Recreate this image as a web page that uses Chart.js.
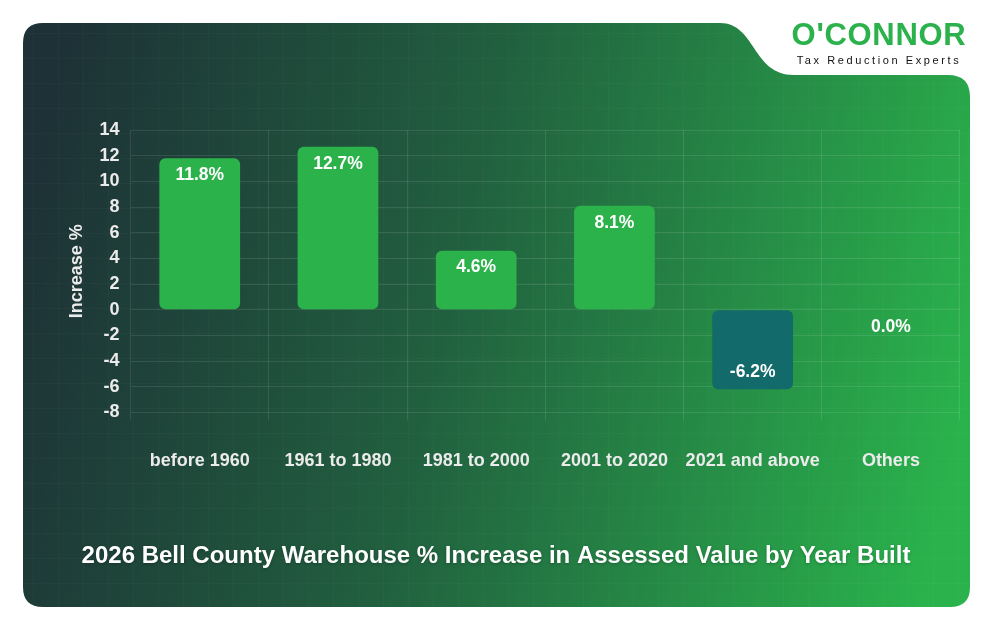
<!DOCTYPE html>
<html><head><meta charset="utf-8">
<script src="https://cdn.jsdelivr.net/npm/chart.js@4.4.1/dist/chart.umd.min.js"></script>
<style>
html,body{margin:0;padding:0;background:#fff;}
#wrap{position:relative;width:994px;height:632px;}
canvas{position:absolute;left:0;top:0;}
#logo{position:absolute;left:781px;top:18px;width:196px;text-align:center;font-family:Arial,"Liberation Sans",sans-serif;}
#logo .n{color:#2bb24c;font-weight:900;font-size:31px;letter-spacing:0.7px;line-height:34px;}
#logo .t{color:#111;font-size:11px;letter-spacing:2.6px;line-height:14px;margin-top:1px;}
</style></head>
<body><div id="wrap"><canvas id="c" width="994" height="632"></canvas>
<div id="logo"><div class="n">O'CONNOR</div><div class="t">Tax Reduction Experts</div></div></div>
<script>
const categories = ["before 1960","1961 to 1980","1981 to 2000","2001 to 2020","2021 and above","Others"];
const values = [11.8, 12.7, 4.6, 8.1, -6.2, 0.0];
const yTicks = [14,12,10,8,6,4,2,0,-2,-4,-6,-8];
const chartTitle = "2026 Bell County Warehouse % Increase in Assessed Value by Year Built";
const yTitle = "Increase %";

const FF = 'Arial, "Liberation Sans", sans-serif';

const bgPlugin = {
  id:'bg',
  beforeDraw(chart){
    const ctx = chart.ctx;
    ctx.save();
    const L=23,T=23,R=970,B=607,r=20;
    ctx.beginPath();
    ctx.moveTo(L+r,T);
    ctx.lineTo(720,T);
    ctx.bezierCurveTo(756,T,752,75,794,75);
    ctx.lineTo(948,75);
    ctx.quadraticCurveTo(R,75,R,97);
    ctx.lineTo(R,B-r);
    ctx.quadraticCurveTo(R,B,R-r,B);
    ctx.lineTo(L+r,B);
    ctx.quadraticCurveTo(L,B,L,B-r);
    ctx.lineTo(L,T+r);
    ctx.quadraticCurveTo(L,T,L+r,T);
    ctx.closePath();
    const g = ctx.createLinearGradient(L,200,R,420);
    g.addColorStop(0,'#1d3136');
    g.addColorStop(0.45,'#21603f');
    g.addColorStop(1,'#2ab34c');
    ctx.fillStyle=g;
    ctx.fill();
    ctx.clip();
    ctx.strokeStyle='rgba(255,255,255,0.025)';
    ctx.lineWidth=1;
    for(let x=L+10;x<R;x+=25){ctx.beginPath();ctx.moveTo(x+0.5,T);ctx.lineTo(x+0.5,B);ctx.stroke();}
    for(let y=T+10;y<B;y+=25){ctx.beginPath();ctx.moveTo(L,y+0.5);ctx.lineTo(R,y+0.5);ctx.stroke();}
    ctx.restore();
  },
  afterDraw(chart){
    const ctx=chart.ctx;
    ctx.save();
    ctx.font='bold 24px '+FF;
    ctx.fillStyle='#ffffff';
    ctx.textAlign='center';
    ctx.textBaseline='middle';
    ctx.shadowColor='rgba(0,0,0,0.25)';
    ctx.shadowBlur=3;
    ctx.shadowOffsetY=1;
    ctx.fillText(chartTitle, 496, 556);
    ctx.restore();
  }
};

const labelPlugin = {
  id:'vals',
  afterDatasetsDraw(chart){
    const ctx=chart.ctx;
    const meta=chart.getDatasetMeta(0);
    ctx.save();
    ctx.font='bold 17.5px '+FF;
    ctx.fillStyle='#ffffff';
    ctx.textAlign='center';
    ctx.textBaseline='middle';
    meta.data.forEach((bar,i)=>{
      const v=values[i];
      let y;
      if(v>=0){ y = Math.min(bar.y,bar.base)+17; }
      else { y = Math.max(bar.y,bar.base)-17; }
      ctx.fillText(v.toFixed(1)+'%', bar.x, y);
    });
    ctx.restore();
  }
};

const font = {family:FF, weight:'bold', size:18};
new Chart(document.getElementById('c'),{
  type:'bar',
  data:{labels:categories,datasets:[{
    data:values,
    backgroundColor: values.map(v=>v<0?'#126a6b':'#2bb24b'),
    borderRadius:6, borderSkipped:false,
    categoryPercentage:0.8, barPercentage:0.73
  }]},
  options:{
    responsive:false, animation:false,
    layout:{padding:{left:62,right:34,top:130,bottom:130}},
    plugins:{legend:{display:false},tooltip:{enabled:false},title:{display:false}},
    scales:{
      x:{grid:{color:'rgba(255,255,255,0.1)',tickLength:8,offset:true},
        border:{display:false},
        ticks:{color:'#ebebeb',font:font,padding:30,maxRotation:0,minRotation:0,autoSkip:false}},
      y:{min:-8,max:14,
        afterBuildTicks(axis){axis.ticks=yTicks.map(v=>({value:v}));},
        grid:{color:'rgba(255,255,255,0.1)',drawTicks:false},
        border:{display:false},
        ticks:{color:'#ebebeb',font:font,padding:11,autoSkip:false},
        title:{display:true,text:yTitle,color:'#ebebeb',font:font,padding:{top:4,bottom:1}}}
    }
  },
  plugins:[bgPlugin,labelPlugin]
});
</script></body></html>
